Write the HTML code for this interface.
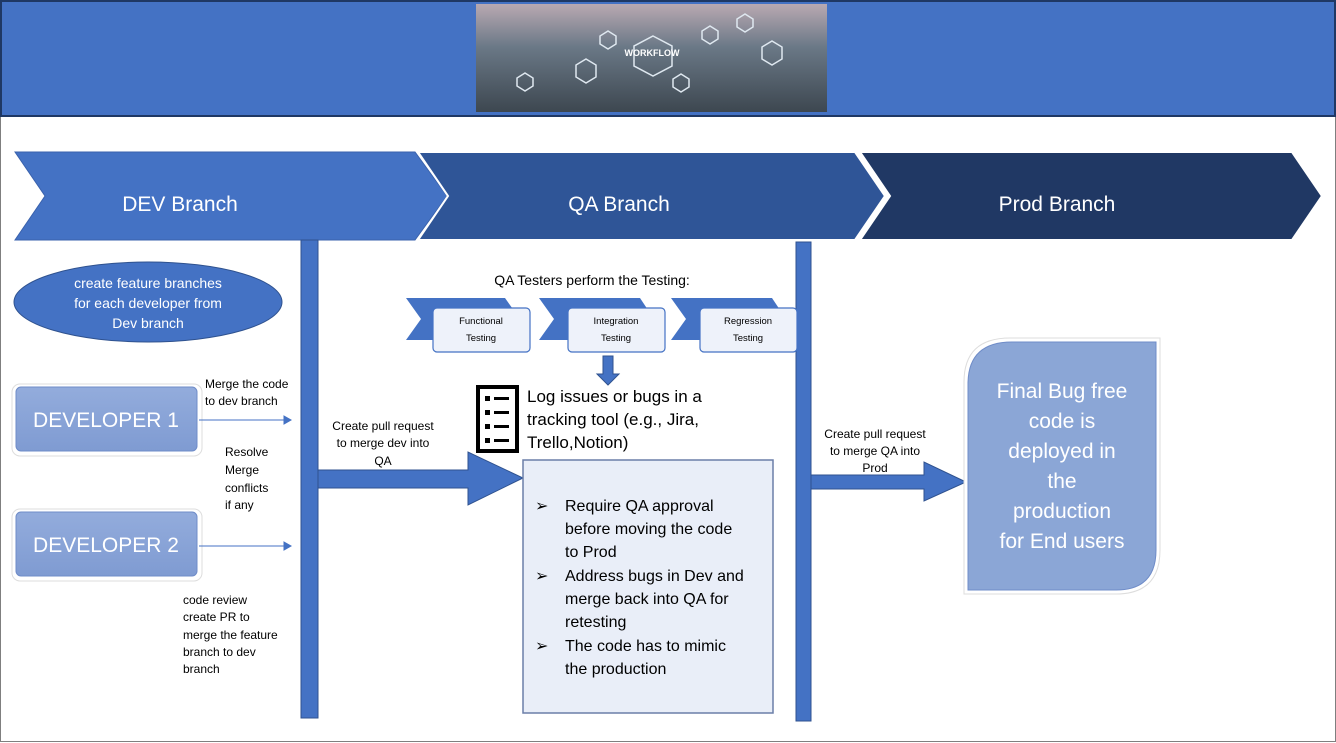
<!DOCTYPE html>
<html><head><meta charset="utf-8"><style>
html,body{margin:0;padding:0;background:#fff;}
svg{display:block;font-family:"Liberation Sans",sans-serif;}
</style></head><body>
<svg width="1336" height="743" viewBox="0 0 1336 743" xmlns="http://www.w3.org/2000/svg">
<defs>
<linearGradient id="img" x1="0" y1="0" x2="0" y2="1">
<stop offset="0" stop-color="#b9a9b2"/><stop offset="0.4" stop-color="#6a7886"/><stop offset="1" stop-color="#3d4750"/></linearGradient>
<linearGradient id="dev" x1="0" y1="0" x2="0" y2="1"><stop offset="0" stop-color="#93acdc"/><stop offset="1" stop-color="#7f9bd2"/></linearGradient>
</defs>
<rect x="0.5" y="0.5" width="1335" height="741" fill="#fff" stroke="#7f7f7f"/>
<!-- header -->
<rect x="1" y="1" width="1334" height="115" fill="#4472c4" stroke="#1f3864" stroke-width="2"/>
<rect x="476" y="4" width="351" height="108" fill="url(#img)"/>
<g fill="none" stroke="#dfe8f0" stroke-width="1.5">
<polygon points="653,36 672,46 672,66 653,76 634,66 634,46"/>
<polygon points="586,59 596,65 596,77 586,83 576,77 576,65"/>
<polygon points="608,31 616,36 616,44 608,49 600,44 600,36"/>
<polygon points="681,74 689,79 689,87 681,92 673,87 673,79"/>
<polygon points="710,26 718,31 718,39 710,44 702,39 702,31"/>
<polygon points="772,41 782,47 782,59 772,65 762,59 762,47"/>
<polygon points="745,14 753,19 753,27 745,32 737,27 737,19"/>
<polygon points="525,73 533,78 533,86 525,91 517,86 517,78"/>
</g>
<text x="652" y="56" font-size="9" font-weight="bold" fill="#fff" text-anchor="middle">WORKFLOW</text>
<!-- chevrons -->
<polygon points="15,152 415,152 447,196 415,240 15,240 45,196" fill="#4472c4" stroke="#3a62ad"/>
<polygon points="418,152 855,152 885,196 855,240 418,240 448,196" fill="#2f5597" stroke="#fff" stroke-width="2"/>
<polygon points="860,152 1292,152 1322,196 1292,240 860,240 890,196" fill="#203864" stroke="#fff" stroke-width="2"/>
<text x="180" y="211" font-size="21" fill="#fff" text-anchor="middle">DEV Branch</text>
<text x="619" y="211" font-size="21" fill="#fff" text-anchor="middle">QA Branch</text>
<text x="1057" y="211" font-size="21" fill="#fff" text-anchor="middle">Prod Branch</text>
<!-- bars -->
<rect x="301" y="240" width="17" height="478" fill="#4472c4" stroke="#2f528f"/>
<rect x="796" y="242" width="15" height="479" fill="#4472c4" stroke="#2f528f"/>
<polygon points="318,470 468,470 468,452 523,478 468,505 468,488 318,488" fill="#4472c4" stroke="#2f528f"/>
<polygon points="811,475 924,475 924,462 966,482 924,501 924,489 811,489" fill="#4472c4" stroke="#2f528f"/>
<!-- ellipse -->
<ellipse cx="148" cy="302" rx="134" ry="40" fill="#4472c4" stroke="#2f528f"/>
<g font-size="14" fill="#fff" text-anchor="middle">
<text x="148" y="288">create feature branches</text>
<text x="148" y="308">for each developer  from</text>
<text x="148" y="328">Dev branch</text></g>
<!-- developers -->
<rect x="12" y="384" width="190" height="72" rx="8" fill="#fff" stroke="#ddd"/>
<rect x="16" y="387" width="181" height="64" rx="5" fill="url(#dev)" stroke="#6f8cc8"/>
<text x="106" y="427" font-size="21" fill="#fff" text-anchor="middle">DEVELOPER 1</text>
<rect x="12" y="509" width="190" height="72" rx="8" fill="#fff" stroke="#ddd"/>
<rect x="16" y="512" width="181" height="64" rx="5" fill="url(#dev)" stroke="#6f8cc8"/>
<text x="106" y="552" font-size="21" fill="#fff" text-anchor="middle">DEVELOPER 2</text>
<g stroke="#4472c4" fill="#4472c4">
<line x1="199" y1="420" x2="285" y2="420"/><polygon points="284,416 291,420 284,424"/>
<line x1="199" y1="546" x2="285" y2="546"/><polygon points="284,542 291,546 284,550"/></g>
<g font-size="12" fill="#000">
<text x="205" y="388">Merge the code</text><text x="205" y="405">to dev branch</text>
<text x="225" y="456">Resolve</text><text x="225" y="474">Merge</text><text x="225" y="492">conflicts</text><text x="225" y="509">if any</text>
<text x="183" y="604">code review</text><text x="183" y="621">create PR to</text><text x="183" y="639">merge the feature</text><text x="183" y="656">branch to dev</text><text x="183" y="673">branch</text>
<text x="383" y="430" text-anchor="middle">Create pull request</text><text x="383" y="447" text-anchor="middle">to merge dev into</text><text x="383" y="465" text-anchor="middle">QA</text>
<text x="875" y="438" text-anchor="middle">Create pull request</text><text x="875" y="455" text-anchor="middle">to merge QA into</text><text x="875" y="472" text-anchor="middle">Prod</text>
</g>
<text x="592" y="285" font-size="14" text-anchor="middle">QA Testers perform the Testing:</text>
<!-- testing chevrons -->
<g fill="#4472c4">
<polygon points="406,298 505,298 520,319 505,340 406,340 421,319"/>
<polygon points="539,298 640,298 654,319 640,340 539,340 554,319"/>
<polygon points="671,298 772,298 786,319 772,340 671,340 686,319"/></g>
<g fill="#eef2fa" stroke="#4472c4" stroke-width="1.2">
<rect x="433" y="308" width="97" height="44" rx="4"/>
<rect x="568" y="308" width="97" height="44" rx="4"/>
<rect x="700" y="308" width="97" height="44" rx="4"/></g>
<g font-size="9.5" fill="#000" text-anchor="middle">
<text x="481" y="324">Functional</text><text x="481" y="341">Testing</text>
<text x="616" y="324">Integration</text><text x="616" y="341">Testing</text>
<text x="748" y="324">Regression</text><text x="748" y="341">Testing</text></g>
<polygon points="603,356 613,356 613,374 619,374 608,385 597,374 603,374" fill="#4472c4" stroke="#2f528f"/>
<!-- list icon -->
<rect x="478" y="387" width="39" height="64" fill="#fff" stroke="#000" stroke-width="4"/>
<g fill="#000"><rect x="485" y="396" width="5" height="5"/><rect x="494" y="397" width="15" height="3"/>
<rect x="485" y="410" width="5" height="5"/><rect x="494" y="411" width="15" height="3"/>
<rect x="485" y="424" width="5" height="5"/><rect x="494" y="425" width="15" height="3"/>
<rect x="485" y="438" width="5" height="5"/><rect x="494" y="439" width="15" height="3"/></g>
<g font-size="17" fill="#000"><text x="527" y="402">Log issues or bugs in a</text><text x="527" y="425">tracking tool (e.g., Jira,</text><text x="527" y="448">Trello,Notion)</text></g>
<!-- big box -->
<rect x="523" y="460" width="250" height="253" fill="#e9eef8" stroke="#6b7fa8" stroke-width="1.5"/>
<g font-size="16" fill="#000">
<text x="535" y="511">➢</text><text x="565" y="511">Require QA approval</text>
<text x="565" y="534">before moving the code</text><text x="565" y="557">to Prod</text>
<text x="535" y="581">➢</text><text x="565" y="581">Address bugs in Dev and</text>
<text x="565" y="604">merge back into QA for</text><text x="565" y="627">retesting</text>
<text x="535" y="651">➢</text><text x="565" y="651">The code has to mimic</text>
<text x="565" y="674">the production</text></g>
<!-- final box -->
<path d="M1010,338 H1160 V550 Q1160,594 1116,594 H964 V382 Q964,338 1010,338 Z" fill="#fff" stroke="#ddd"/>
<path d="M1012,342 H1156 V550 Q1156,590 1116,590 H968 V384 Q968,342 1012,342 Z" fill="#8ba6d6" stroke="#6f8cc8"/>
<g font-size="21" fill="#fff" text-anchor="middle">
<text x="1062" y="398">Final Bug free</text><text x="1062" y="428">code is</text><text x="1062" y="458">deployed in</text>
<text x="1062" y="488">the</text><text x="1062" y="518">production</text><text x="1062" y="548">for End users</text></g>
</svg>
</body></html>
